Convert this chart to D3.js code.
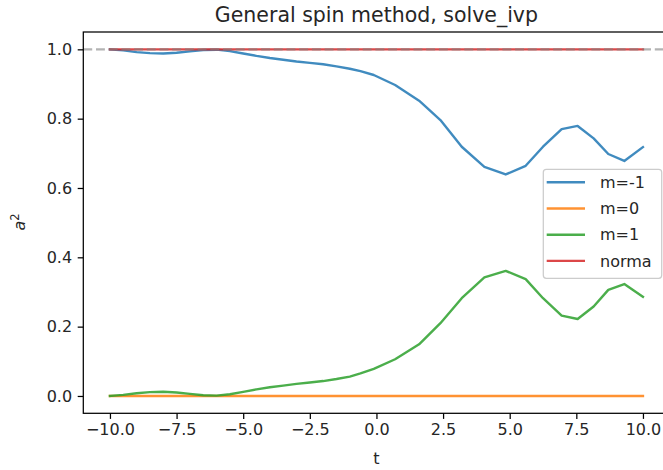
<!DOCTYPE html>
<html>
<head>
<meta charset="utf-8">
<script src="https://cdn.jsdelivr.net/npm/d3@7"></script>
<style>
  body { margin: 0; background: #fff; }
  svg { font-family: "DejaVu Sans", sans-serif; }
</style>
</head>
<body>
<svg width="663" height="470"></svg>
<script>
// solver time steps
let tVals = [-10, -9.5, -9, -8.5, -8, -7.5, -7, -6.5, -6, -5.5, -5, -4.5, -4, -3.5, -3, -2.5, -2, -1.5, -1,
             -0.6, -0.1, 0.7, 1.6, 2.4, 3.2, 4.05, 4.85, 5.6, 6.25, 6.95, 7.55, 8.15, 8.7, 9.3, 10];

let mMinus1 = [1.0, 0.997, 0.992, 0.989, 0.988, 0.99, 0.994, 0.998, 0.999, 0.995, 0.988, 0.981, 0.975, 0.970, 0.965, 0.961, 0.957, 0.951, 0.944,
               0.937, 0.926, 0.897, 0.852, 0.796, 0.719, 0.661, 0.639, 0.664, 0.719, 0.770, 0.779, 0.743, 0.698, 0.678, 0.718];
let m0 = [0, 0, 0, 0, 0, 0, 0, 0, 0, 0, 0, 0, 0, 0, 0, 0, 0, 0, 0,
          0, 0, 0, 0, 0, 0, 0, 0, 0, 0, 0, 0, 0, 0, 0, 0];
let m1 = [0.0, 0.003, 0.008, 0.011, 0.012, 0.010, 0.006, 0.002, 0.001, 0.005, 0.012, 0.019, 0.025, 0.030, 0.035, 0.039, 0.043, 0.049, 0.056,
          0.065, 0.078, 0.106, 0.149, 0.21, 0.282, 0.342, 0.361, 0.337, 0.282, 0.232, 0.222, 0.258, 0.306, 0.323, 0.286];
let norma = [1, 1, 1, 1, 1, 1, 1, 1, 1, 1, 1, 1, 1, 1, 1, 1, 1, 1, 1,
             1, 1, 1, 1, 1, 1, 1, 1, 1, 1, 1, 1, 1, 1, 1, 1];

let xTicks = [-10, -7.5, -5, -2.5, 0, 2.5, 5, 7.5, 10];
let yTicks = [0, 0.2, 0.4, 0.6, 0.8, 1.0];

let seriesNames = ["m=-1", "m=0", "m=1", "norma"];
let seriesData = [mMinus1, m0, m1, norma];
let colors = ["#1f77b4", "#ff7f0e", "#2ca02c", "#d62728"];

let svg = d3.select("svg"),
    margin = {top: 32, right: -6.6, bottom: 56.7, left: 83.3},
    width = +svg.attr("width") - margin.left - margin.right,
    height = +svg.attr("height") - margin.top - margin.bottom,
    g = svg.append("g").attr("transform", "translate(" + margin.left + "," + margin.top + ")");

let x = d3.scaleLinear().domain([-11, 11]).range([0, width]);
let y = d3.scaleLinear().domain([-0.05, 1.05]).range([height, 0]);

let line = d3.line()
    .x(function(d) { return x(d[0]); })
    .y(function(d) { return y(d[1]); });

let lw = 2.4;

seriesData.forEach(function(vals, i) {
  g.append("path")
      .datum(tVals.map(function(t, j) { return [t, vals[j]]; }))
      .attr("fill", "none")
      .attr("stroke", colors[i])
      .attr("stroke-opacity", 0.85)
      .attr("stroke-width", lw)
      .attr("stroke-linejoin", "round")
      .attr("stroke-linecap", "square")
      .attr("d", line);
});

// dashed reference line at 1
g.append("line")
    .attr("x1", 0)
    .attr("x2", width)
    .attr("y1", y(1))
    .attr("y2", y(1))
    .attr("stroke", "#808080")
    .attr("stroke-opacity", 0.6)
    .attr("stroke-width", lw)
    .attr("stroke-dasharray", "8.9,3.8");

let fs = 16;

let xAxis = g.append("g")
    .attr("transform", "translate(0," + height + ")")
    .call(d3.axisBottom(x).tickValues(xTicks).tickFormat(d3.format(".1f")).tickSize(5.6).tickPadding(4.5));
let yAxis = g.append("g")
    .call(d3.axisLeft(y).tickValues(yTicks).tickFormat(d3.format(".1f")).tickSize(5.6).tickPadding(5.6));

[xAxis, yAxis].forEach(function(a) {
  a.select(".domain").remove();
  a.selectAll("line").attr("stroke", "#000").attr("stroke-width", 1.25);
  a.selectAll("text").attr("font-size", fs).attr("fill", "#262626")
      .attr("font-family", "DejaVu Sans, sans-serif");
});
xAxis.selectAll("text").attr("dy", "0.75em");

// spines
g.append("rect")
    .attr("x", 0).attr("y", 0)
    .attr("width", width).attr("height", height)
    .attr("fill", "none")
    .attr("stroke", "#000")
    .attr("stroke-width", 1.25);

// title and labels
svg.append("text")
    .attr("x", margin.left + width / 2)
    .attr("y", 22)
    .attr("text-anchor", "middle")
    .attr("font-size", 20.5)
    .attr("fill", "#262626")
    .text("General spin method, solve_ivp");

svg.append("text")
    .attr("x", margin.left + width / 2)
    .attr("y", 464)
    .attr("text-anchor", "middle")
    .attr("font-size", fs)
    .attr("fill", "#262626")
    .text("t");

let yl = svg.append("text")
    .attr("transform", "translate(25,222) rotate(-90)")
    .attr("text-anchor", "middle")
    .attr("font-size", fs)
    .attr("fill", "#262626");
yl.append("tspan").attr("font-style", "italic").text("a");
yl.append("tspan").attr("font-size", 11.5).attr("dy", -6).text("2");

// legend
let lg = svg.append("g").attr("transform", "translate(543.3,169.3)");
lg.append("rect")
    .attr("width", 118.4)
    .attr("height", 109)
    .attr("rx", 3)
    .attr("fill", "#fff")
    .attr("fill-opacity", 0.8)
    .attr("stroke", "#ccc")
    .attr("stroke-width", 1.25);

let items = lg.selectAll("g.item")
    .data(seriesNames)
    .enter().append("g")
      .attr("transform", function(d, i) { return "translate(0," + (13 + i * 26.2) + ")"; });

items.append("line")
    .attr("x1", 3.4).attr("x2", 41.7)
    .attr("stroke", function(d, i) { return colors[i]; })
    .attr("stroke-opacity", 0.85)
    .attr("stroke-width", lw);

items.append("text")
    .attr("x", 56.7)
    .attr("dy", "0.36em")
    .attr("font-size", fs)
    .attr("fill", "#262626")
    .text(function(d) { return d; });
</script>
</body>
</html>
